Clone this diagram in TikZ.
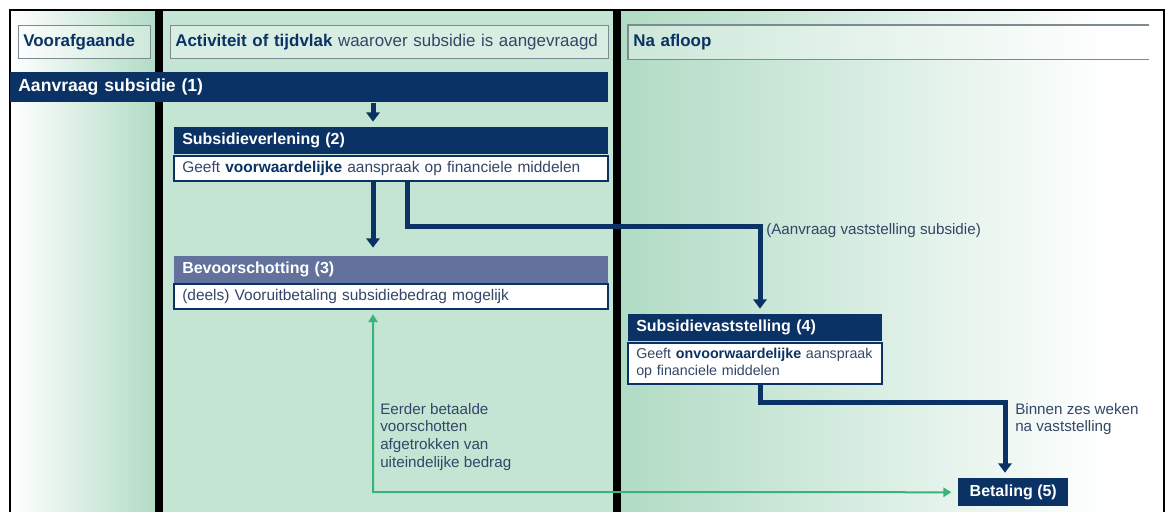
\documentclass[tikz,border=0pt]{standalone}
\usepackage{fontspec}
\setmainfont{Liberation Sans}
\usetikzlibrary{positioning,arrows.meta}

\definecolor{navy}{RGB}{10,50,100}
\definecolor{leisteen}{RGB}{98,114,156}
\definecolor{mint}{RGB}{197,229,212}
\definecolor{mintdonker}{RGB}{176,219,196}
\definecolor{inkt}{RGB}{52,70,104}
\definecolor{lijngroen}{RGB}{58,178,124}
\definecolor{kaderlijn}{RGB}{126,138,146}

\newcommand{\nadruk}[1]{{\bfseries\color{navy}#1}}

\begin{document}
\begin{tikzpicture}[x=0.75pt, y=-0.75pt,
    every node/.style={font=\fontsize{11.6}{13.5}\selectfont, inner sep=0pt},
    kop/.style={draw=kaderlijn, line width=1pt, fill=white, fill opacity=0.35, text opacity=1,
        minimum height=24.75pt, inner xsep=3.5pt, text=navy, font=\bfseries\fontsize{12.7}{15}\selectfont},
    titel/.style={fill=navy, text=white, minimum height=20.25pt, inner xsep=6pt,
        font=\bfseries\fontsize{12}{15}\selectfont},
    tekstvak/.style={fill=white, draw=navy, line width=1.5pt, text=inkt, inner xsep=6pt, inner ysep=4pt,
        align=left},
    flow/.style={draw=navy, line width=3.75pt, -{Triangle[width=10pt, length=7pt]}, shorten >=4pt},
    terug/.style={draw=lijngroen, line width=1.5pt, {Triangle[width=7pt, length=6pt]}-{Triangle[width=7pt, length=6pt]},
        shorten <=3pt, shorten >=5pt},
    uitleg/.style={text=inkt, align=left, font=\fontsize{11.4}{13.2}\selectfont}]

    \useasboundingbox (0,0) rectangle (1168,511);

    % Columns
    \shade[left color=white, right color=mintdonker] (10,10) rectangle (158,512);
    \fill[mint] (158,10) rectangle (617,512);
    \shade[left color=mintdonker, right color=white] (617,10) rectangle (1110,512);
    \fill[white] (1110,10) rectangle (1164,512);
    \draw[line width=1.5pt] (10,512) -- (10,10) -- (1164,10) -- (1164,512);

    % Dividers
    \draw[line width=5.5pt] (159,10) -- (159,512);
    \draw[line width=5.5pt] (617,10) -- (617,512);

    % Column headings
    \node[kop, anchor=north west, text width=92pt] (voorafgaand) at (18,25) {Voorafgaande};
    \node[kop, anchor=north west, text width=321.5pt] (activiteit) at (170,25)
        {\mbox{Activiteit of tijdvlak \mdseries\color{inkt}waarover subsidie is aangevraagd}};
    \node[kop, draw=none, anchor=north west, text width=383pt] (naafloop) at (628,25) {Na afloop};
    \draw[kaderlijn, line width=1pt] (naafloop.north east) -- (naafloop.north west)
        -- (naafloop.south west) -- (naafloop.south east);

    % Request bar
    \node[titel, anchor=north west, text width=436.5pt, minimum height=22.5pt,
        font=\bfseries\fontsize{13.2}{16}\selectfont] (aanvraag) at (10,72) {Aanvraag subsidie (1)};

    % Steps
    \node[titel, anchor=north west, text width=313.5pt] (verlening) at (174,127) {Subsidieverlening (2)};
    \node[tekstvak, below=0pt of verlening, text width=313.5pt] (verleningtxt)
        {Geeft \nadruk{voorwaardelijke} aanspraak op financiele middelen};

    \node[titel, below=55.5pt of verleningtxt, fill=leisteen, text width=313.5pt] (voorschot) {Bevoorschotting (3)};
    \node[tekstvak, below=0pt of voorschot, text width=313.5pt] (voorschottxt)
        {(deels) Vooruitbetaling subsidiebedrag mogelijk};

    \node[titel, anchor=north west, text width=178.5pt] (vaststelling) at (628,314) {Subsidievaststelling (4)};
    \node[tekstvak, below=0pt of vaststelling, text width=178.5pt, font=\fontsize{10.7}{13.2}\selectfont] (vaststellingtxt)
        {\mbox{Geeft \nadruk{onvoorwaardelijke} aanspraak}\\op financiele middelen};

    \node[titel, anchor=north west, minimum width=82.5pt, minimum height=21pt] (betaling) at (958,478) {Betaling (5)};

    % Edges
    \coordinate (pijlx) at (373,0);
    \coordinate (aftak) at (407,0);
    \coordinate (knik1) at (760,226);
    \coordinate (knik2) at (1005,402);
    \coordinate (hoek) at (373,492);

    \draw[flow] (aanvraag.south -| pijlx) -- (verlening.north -| pijlx);
    \draw[flow, shorten >=6pt] (verleningtxt.south -| pijlx) -- (voorschot.north -| pijlx);
    \draw[flow] (verleningtxt.south -| aftak) |- (knik1) -- (vaststelling.north -| knik1);
    \draw[flow] (vaststellingtxt.south -| knik1) |- (knik2) -- (betaling.north -| knik2);
    \draw[terug] (voorschottxt.south -| hoek) -- (hoek) -- (betaling.west);

    % Notes
    \node[uitleg, anchor=west] (aanvraaglbl) at (766,231) {(Aanvraag vaststelling subsidie)};
    \node[uitleg, anchor=north west] (termijn) at (1015,403) {Binnen zes weken\\na vaststelling};
    \node[uitleg, anchor=north west] (verrekening) at (380,403)
        {Eerder betaalde\\voorschotten\\afgetrokken van\\uiteindelijke bedrag};
\end{tikzpicture}
\end{document}
